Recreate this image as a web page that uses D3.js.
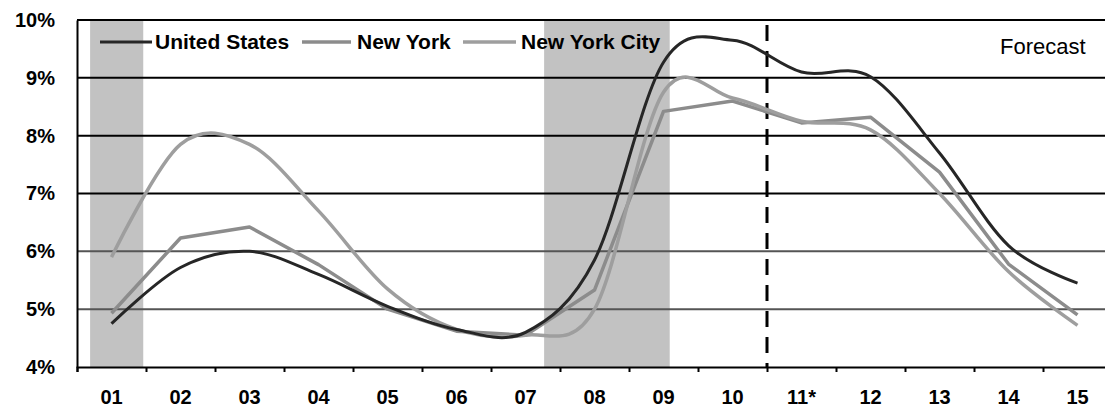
<!DOCTYPE html>
<html><head><meta charset="utf-8">
<script src="https://cdn.jsdelivr.net/npm/d3@7"></script>
<style>
html,body{margin:0;padding:0;background:#fff;}
svg text{font-family:"Liberation Sans",Arial,sans-serif;}
</style></head>
<body><svg id="c" width="1105" height="415"></svg>
<script>
const years = ["01","02","03","04","05","06","07","08","09","10","11*","12","13","14","15"];
const usValues  = [4.75,5.72,6.0,5.6,5.05,4.65,4.6,5.85,9.27,9.65,9.1,9.02,7.7,6.1,5.45];
const nyValues  = [4.93,6.23,6.42,5.77,5.0,4.62,4.55,5.33,8.42,8.6,8.22,8.32,7.37,5.78,4.9];
const nycValues = [5.9,7.85,7.85,6.7,5.35,4.65,4.55,5.0,8.75,8.65,8.25,8.1,7.0,5.65,4.72];
const yTicks = [4,5,6,7,8,9,10];
const recessions = [[0.19,0.96],[6.77,8.59]];
const forecastStart = 10;
const seriesNames = ["United States","New York","New York City"];

const svg = d3.select("#c");
const x = d3.scaleLinear().domain([0,15]).range([77,1112]);
const y = d3.scaleLinear().domain([4,10]).range([367,20]);

// recession shading
svg.append("g").selectAll("rect").data(recessions).join("rect")
  .attr("x",d=>x(d[0])).attr("width",d=>x(d[1])-x(d[0]))
  .attr("y",y(10)).attr("height",y(4)-y(10))
  .attr("fill","#c2c2c2");

// gridlines
svg.append("g").selectAll("line").data(yTicks.filter(v=>v>4)).join("line")
  .attr("x1",x(0)).attr("x2",1105)
  .attr("y1",d=>y(d)).attr("y2",d=>y(d))
  .attr("stroke",d=>d<=6?"#555":"#000").attr("stroke-width",2);

// y axis
const yAxis = d3.axisLeft(y).tickValues(yTicks).tickFormat(d=>d+"%").tickSize(0).tickPadding(22);
const gy = svg.append("g").attr("transform",`translate(${x(0)},0)`).call(yAxis);
gy.select(".domain").attr("stroke","#000").attr("stroke-width",2);
gy.selectAll("text").attr("font-size",20).attr("font-weight","bold").attr("fill","#000");

// x axis (boundaries as ticks, labels centred)
const xAxis = d3.axisBottom(x).tickValues(d3.range(0,16)).tickSize(5).tickFormat("");
const gx = svg.append("g").attr("transform",`translate(0,${y(4)})`).call(xAxis);
gx.select(".domain").attr("stroke","#000").attr("stroke-width",2);
gx.selectAll(".tick line").attr("stroke","#000").attr("stroke-width",2);
svg.append("g").selectAll("text").data(years).join("text")
  .attr("x",(d,i)=>x(i+0.5)).attr("y",404)
  .attr("text-anchor","middle").attr("font-size",20).attr("font-weight","bold")
  .text(d=>d);

// forecast divider
svg.append("line").attr("x1",x(forecastStart)).attr("x2",x(forecastStart))
  .attr("y1",25).attr("y2",y(4))
  .attr("stroke","#000").attr("stroke-width",3).attr("stroke-dasharray","16,10");

// lines
const smooth = d3.line().x((d,i)=>x(i+0.5)).y(d=>y(d)).curve(d3.curveCatmullRom.alpha(0));
const straight = d3.line().x((d,i)=>x(i+0.5)).y(d=>y(d));
const styles = [
  {data:nyValues, gen:straight, color:"#8c8c8c", w:3.5},
  {data:nycValues, gen:smooth, color:"#9e9e9e", w:3.5},
  {data:usValues, gen:smooth, color:"#262626", w:3}
];
svg.append("g").selectAll("path").data(styles).join("path")
  .attr("d",d=>d.gen(d.data)).attr("fill","none")
  .attr("stroke",d=>d.color).attr("stroke-width",d=>d.w).attr("stroke-linejoin","round");

// legend
const legendItems = [
  {name:seriesNames[0], color:"#262626", w:3, x0:100, x1:152, tx:155},
  {name:seriesNames[1], color:"#8c8c8c", w:3.5, x0:302, x1:351, tx:357},
  {name:seriesNames[2], color:"#9e9e9e", w:3.5, x0:463, x1:516, tx:521}
];
const lg = svg.append("g");
legendItems.forEach(it=>{
  lg.append("line").attr("x1",it.x0).attr("x2",it.x1).attr("y1",42).attr("y2",42)
    .attr("stroke",it.color).attr("stroke-width",it.w);
  lg.append("text").attr("x",it.tx).attr("y",49).attr("font-size",21).attr("font-weight","bold").text(it.name);
});
svg.append("text").attr("x",1000).attr("y",54).attr("font-size",22).text("Forecast");
</script></body></html>
